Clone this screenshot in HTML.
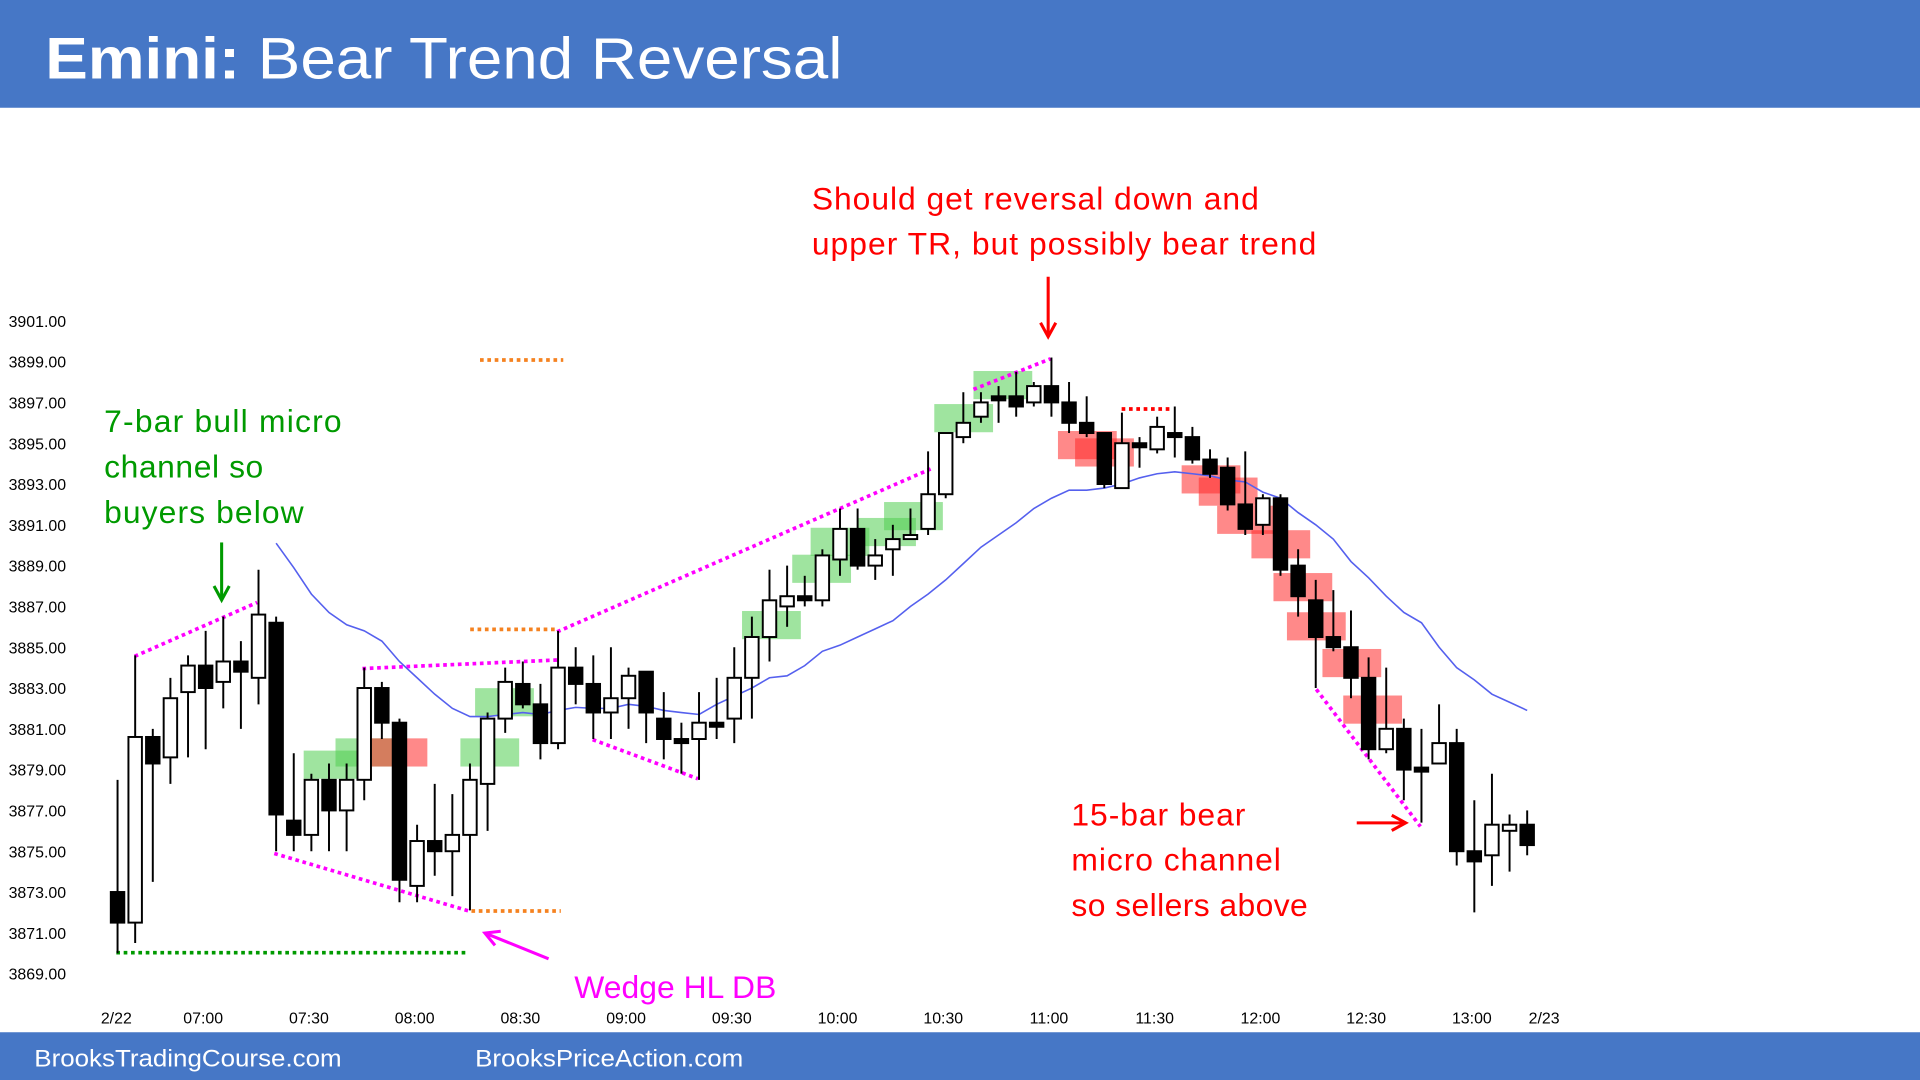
<!DOCTYPE html>
<html><head><meta charset="utf-8"><style>
html,body{margin:0;padding:0;background:#fff;}
svg{display:block;}
text{font-family:"Liberation Sans",sans-serif;}
</style></head><body>
<svg id="chart" width="1920" height="1080" viewBox="0 0 1568 882" xmlns="http://www.w3.org/2000/svg">
<rect x="0" y="0" width="1568" height="88" fill="#4677C6"/>
<text x="37" y="64" font-size="48" fill="#fff" textLength="651" lengthAdjust="spacingAndGlyphs"><tspan font-weight="bold">Emini:</tspan> Bear Trend Reversal</text>
<rect x="0" y="843" width="1568" height="39" fill="#4677C6"/>
<text x="28" y="871" font-size="20" fill="#fff" textLength="251" lengthAdjust="spacingAndGlyphs">BrooksTradingCourse.com</text>
<text x="388" y="871" font-size="20" fill="#fff" textLength="219" lengthAdjust="spacingAndGlyphs">BrooksPriceAction.com</text>
<g id="yaxis"></g>
<g id="xaxis"></g>
<g id="boxes"></g>
<g id="ann"></g>
<path id="ema" fill="none" stroke="#5560EE" stroke-width="1.3"/>
<g id="candles"></g>
<g id="texts">
<text fill="#009A00" font-size="26" lengthAdjust="spacingAndGlyphs"><tspan x="85" y="353" textLength="194">7-bar bull micro</tspan><tspan x="85" y="390" textLength="130">channel so</tspan><tspan x="85" y="427" textLength="163">buyers below</tspan></text>
<text fill="#F00" font-size="26"><tspan x="663" y="171" textLength="365">Should get reversal down and</tspan><tspan x="663" y="208" textLength="412">upper TR, but possibly bear trend</tspan></text>
<text fill="#F00" font-size="26"><tspan x="875" y="674" textLength="142">15-bar bear</tspan><tspan x="875" y="711" textLength="171">micro channel</tspan><tspan x="875" y="748" textLength="193">so sellers above</tspan></text>
<text fill="#F0F" font-size="26" x="469" y="815" textLength="165">Wedge HL DB</text>
</g>
</svg>
<script>
const opens=[3873,3871.5,3880.6,3879.6,3882.8,3884.1,3883.3,3884.3,3883.5,3886.2,3876.5,3875.8,3878.5,3877,3878.5,3883,3881.3,3873.3,3875.5,3875,3875.8,3878.3,3881.5,3883.2,3882.2,3880.3,3884,3883.2,3881.8,3882.5,3883.8,3881.5,3880.5,3880.5,3881.3,3881.5,3883.5,3885.5,3887,3887.5,3887.3,3889.3,3890.8,3889,3889.8,3890.3,3890.8,3892.5,3895.3,3896.3,3897.3,3897.3,3897,3897.8,3897,3896,3895.5,3892.8,3895,3894.7,3895.5,3895.3,3894.2,3893.8,3892,3891,3892.3,3889,3887.3,3885.5,3885,3883.5,3880,3881,3879.1,3879.3,3880.3,3875,3874.8,3876,3876.3];
const closes=[3871.5,3880.6,3879.3,3882.5,3884.1,3883,3884.3,3883.8,3886.6,3876.8,3875.8,3878.5,3877,3878.5,3883,3881.3,3873.6,3875.5,3875,3875.8,3878.5,3881.5,3883.3,3882.2,3880.3,3884,3883.2,3881.8,3882.5,3883.6,3881.8,3880.5,3880.3,3881.3,3881.1,3883.5,3885.5,3887.3,3887.5,3887.3,3889.5,3890.8,3889,3889.5,3890.3,3890.5,3892.5,3895.5,3896,3897,3897.1,3896.8,3897.8,3897,3896,3895.5,3893,3895,3894.8,3895.8,3895.3,3894.2,3893.5,3892,3890.8,3892.3,3888.8,3887.5,3885.5,3885,3883.5,3880,3881,3879,3878.9,3880.3,3875,3874.5,3876.3,3876.3,3875.3];
const highs=[3878.5,3884.6,3881,3883.5,3884.6,3885.8,3886.5,3885.3,3888.8,3886.5,3879.8,3878.8,3879.3,3879.3,3884,3883.3,3881.5,3876.3,3878.3,3877.8,3879.3,3881.8,3884,3884.3,3883.2,3885.8,3885,3884.6,3885,3884,3883.8,3882.8,3881.3,3882.8,3883.5,3885,3886.5,3888.8,3889,3888.5,3889.8,3891.8,3891.8,3890.3,3891,3891.8,3894.6,3895.5,3897.5,3897.5,3897.8,3898.5,3898,3899.2,3898,3897.3,3895.5,3896.5,3895.3,3896.3,3896.8,3895.8,3894.7,3894.3,3894.6,3892.5,3892.5,3889.8,3888.3,3887.8,3886.8,3884.5,3884,3881.5,3881,3882.2,3881,3877.5,3878.8,3876.8,3877];
const lows=[3870,3870.5,3873.5,3878.3,3879.6,3880,3882,3881,3882.2,3875,3875,3875,3875,3875,3877.5,3880.5,3872.5,3872.5,3873.8,3872.8,3872.1,3876,3880.8,3882,3879.5,3880,3882.2,3880.5,3880.5,3881,3880.3,3879.5,3878.8,3878.5,3880.5,3880.3,3881.5,3884.3,3886,3887,3887,3888.5,3888.8,3888.3,3888.5,3890.3,3890.5,3892.3,3895,3896,3896,3896.3,3896.8,3896.3,3895.5,3895.3,3892.8,3892.8,3893.8,3894.5,3894.3,3894,3893.3,3891.7,3890.5,3890.5,3888.5,3886.5,3883,3884.8,3882.5,3879.5,3879.8,3877.5,3876.4,3879.3,3874.3,3872,3873.3,3874,3874.8];
const emaStart=9;
const emaValues=[3890.1,3888.9,3887.6,3886.7,3886.1,3885.8,3885.3,3884.3,3883.5,3882.7,3882,3881.6,3881.6,3881.7,3881.8,3881.7,3881.9,3882.05,3882,3882,3882.2,3882.1,3881.9,3881.8,3881.7,3882.2,3882.6,3883,3883.5,3883.6,3884.1,3884.8,3885.1,3885.5,3885.9,3886.3,3887,3887.6,3888.3,3889.1,3889.9,3890.5,3891.1,3891.8,3892.3,3892.7,3892.7,3892.8,3893,3893.3,3893.5,3893.6,3893.5,3893.4,3893.2,3893.1,3892.6,3892.3,3891.6,3891,3890.3,3889.2,3888.4,3887.5,3886.7,3886.2,3885,3884,3883.4,3882.7,3882.3,3881.9];
const yTicks=[3901,3899,3897,3895,3893,3891,3889,3887,3885,3883,3881,3879,3877,3875,3873,3871,3869];
const xTickLabels=["2/22","07:00","07:30","08:00","08:30","09:00","09:30","10:00","10:30","11:00","11:30","12:00","12:30","13:00","2/23"];
const xTickBars=[0,5,11,17,23,29,35,41,47,53,59,65,71,77,81];

const NS="http://www.w3.org/2000/svg";
function x(i){return 96+i*14.39;}
function y(p){return 262+(3901-p)*16.66;}
function mk(tag,attrs,parent){const e=document.createElementNS(NS,tag);for(const k in attrs)e.setAttribute(k,attrs[k]);parent.appendChild(e);return e;}

const ya=document.getElementById('yaxis');
yTicks.forEach(v=>{const t=mk('text',{x:7,y:y(v)+5,'font-size':13,fill:'#000'},ya);


t.textContent=v.toFixed(2);});
const xa=document.getElementById('xaxis');
xTickLabels.forEach((l,k)=>{let cx=x(xTickBars[k])-2;if(k==0)cx=95;if(k==xTickLabels.length-1)cx=1261;
const t=mk('text',{x:cx,y:836,'font-size':13,'text-anchor':'middle',fill:'#000'},xa);


t.textContent=l;});

const bx=document.getElementById('boxes');
const greenBoxes=[[248,613],[274,603],[376,603],[388,562],[606,499],[647,453],[662,431],[700,423],[722,410],[763,330],[795,303]];
const redBoxes=[[301,603],[864,352],[878,358],[965,380],[979,390],[994,413],[1022,433],[1040,468],[1051,500],[1080,530],[1097,568]];
greenBoxes.forEach(b=>{const r=mk('rect',{x:b[0],y:b[1],width:48,height:23,fill:'rgba(80,205,80,0.55)'},bx);

});
redBoxes.forEach(b=>{const r=mk('rect',{x:b[0],y:b[1],width:48,height:23,fill:'rgba(255,40,40,0.55)'},bx);

});

const an=document.getElementById('ann');
const dl=[[110,536,210,492,'#F0F'],[95,778,382,778,'#009A00'],[224,697,383,744,'#F0F'],[392,294,460,294,'#F58220'],[384,514,455,514,'#F58220'],[385,744,458,744,'#F58220'],[296,546,455,539,'#F0F'],[455,516,760,383,'#F0F'],[484,604,570,636,'#F0F'],[795,318,858,293,'#F0F'],[916,334,958,334,'#F00'],[1075,563,1160,675,'#F0F']];
dl.forEach(d=>{const l=mk('line',{x1:d[0],y1:d[1],x2:d[2],y2:d[3],stroke:d[4],'stroke-width':3,'stroke-dasharray':'3 3'},an);

});
function arrow(x1,y1,x2,y2,c,name){const g=mk('g',{},an);


mk('line',{x1:x1,y1:y1,x2:x2,y2:y2,stroke:c,'stroke-width':2.5},g);
const a=Math.atan2(y2-y1,x2-x1),h=13;
mk('polyline',{points:`${x2-h*Math.cos(a-0.5)},${y2-h*Math.sin(a-0.5)} ${x2},${y2} ${x2-h*Math.cos(a+0.5)},${y2-h*Math.sin(a+0.5)}`,fill:'none',stroke:c,'stroke-width':2.5},g);}
arrow(181,443,181,490,'#009A00','green-arrow');
arrow(856,226,856,275,'#F00','red-down-arrow');
arrow(1108,672,1148,672,'#F00','red-right-arrow');
arrow(448,783,396,762,'#F0F','magenta-arrow');

let d='';emaValues.forEach((v,k)=>{d+=(k?'L':'M')+x(emaStart+k).toFixed(1)+','+y(v).toFixed(1);});
document.getElementById('ema').setAttribute('d',d);

const cg=document.getElementById('candles');
opens.forEach((o,i)=>{const c=closes[i],cx=x(i);const g=mk('g',{},cg);


mk('line',{x1:cx,x2:cx,y1:y(highs[i]),y2:y(lows[i]),stroke:'#000','stroke-width':1.6},g);
const top=y(Math.max(o,c)),bot=y(Math.min(o,c));
mk('rect',{x:cx-5.5,y:top,width:11,height:Math.max(bot-top,1.5),fill:c>=o?'#fff':'#000',stroke:'#000','stroke-width':1.6},g);});
</script>
</body></html>
